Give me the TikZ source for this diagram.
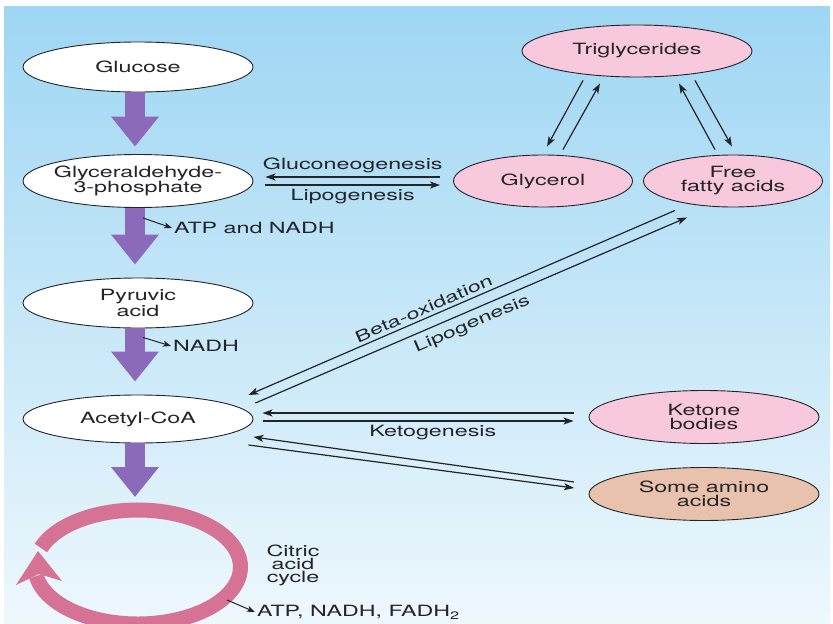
\documentclass[tikz,border=0pt]{standalone}
\usepackage{fontspec}
\setmainfont{TeX Gyre Heros}[FakeStretch=1.5]
\usetikzlibrary{shapes.geometric,arrows.meta}
\definecolor{skytop}{RGB}{158,214,243}
\definecolor{skybottom}{RGB}{238,248,253}
\definecolor{lipidpink}{RGB}{248,200,220}
\definecolor{aminotan}{RGB}{232,194,172}
\definecolor{glycpurple}{RGB}{139,106,188}
\definecolor{cyclepink}{RGB}{214,114,148}
\definecolor{inkgray}{RGB}{35,35,40}

\begin{document}
\begin{tikzpicture}[x=1pt,y=-1pt,
    font=\fontsize{15.5}{14}\selectfont,text=inkgray,
    metab/.style={ellipse,draw=inkgray,line width=0.9pt,fill=white,inner xsep=-15pt,inner ysep=0pt,
        align=center,minimum width=230pt,minimum height=50pt},
    lipid/.style={metab,fill=lipidpink},
    flux/.style={draw=inkgray,line width=1.2pt,-{Stealth[length=10pt,width=7pt,inset=2.5pt]}},
    yield/.style={draw=inkgray,line width=1pt,-{Stealth[length=8pt,width=6pt,inset=2pt]}},
    glycolysis/.style={draw=glycpurple,line width=20pt,-{Triangle[length=30pt,width=46pt]}}]
            \useasboundingbox (0,0) rectangle (833,624);
            \clip (0,0) rectangle (833,624);
            \fill[white] (0,0) rectangle (833,624);
            \shade[top color=skytop,bottom color=skybottom] (4,6) rectangle (830,624);

            \node[metab] (glu) at (138,67) {Glucose};
            \node[metab,minimum height=53pt] (g3p) at (138,181) {Glyceraldehyde-\\3-phosphate};
            \node[metab] (pyr) at (138,303) {Pyruvic\\acid};
            \node[metab,minimum height=48pt] (acoa) at (138,419) {Acetyl-CoA};
            \node[lipid,minimum height=52pt] (tg) at (637,51) {Triglycerides};
            \node[lipid,minimum width=179pt,minimum height=52pt] (glyc) at (543,181) {Glycerol};
            \node[lipid,minimum width=179pt,minimum height=52pt] (ffa) at (733,181) {Free\\fatty acids};
            \node[lipid,minimum height=53pt] (ket) at (704,417) {Ketone\\bodies};
            \node[metab,fill=aminotan,minimum height=53pt] (amino) at (704,494) {Some amino\\acids};

            \draw[glycolysis,shorten >=7.5pt] ([xshift=-3pt]glu.south) -- ([xshift=-3pt]g3p.north);
            \draw[glycolysis,shorten >=13pt] ([xshift=-3pt]g3p.south) -- ([xshift=-3pt]pyr.north);
            \draw[glycolysis,shorten >=13pt] ([xshift=-3pt]pyr.south) -- ([xshift=-3pt]acoa.north);
            \coordinate (tcatop) at (135,497);
            \draw[glycolysis] ([xshift=-3pt]acoa.south) -- (tcatop);

            \coordinate (tca) at (137.75,567);
            \draw[cyclepink,line width=15pt]
                ([shift={(199.5:102.75 and 57)}]tca) arc[start angle=199.5,end angle=530.9,x radius=102.75,y radius=57];
            \fill[cyclepink] (38,551) -- (62,581) -- (39,574) -- (16,585) -- cycle;
            \node[align=center,font=\fontsize{15.5}{13}\selectfont] (cit) at (293,565) {Citric\\acid\\cycle};

            \coordinate (g3pout) at ([shift={(5,10)}]g3p.south);
            \node[anchor=west,inner sep=2pt] (atp) at (172,228) {ATP and NADH};
            \draw[yield] (g3pout) -- (atp.west);
            \coordinate (pyrout) at ([shift={(5,9)}]pyr.south);
            \node[anchor=west,inner sep=2pt] (nadh) at (171,346) {NADH};
            \draw[yield] (pyrout) -- (nadh.west);
            \coordinate (tcaout) at (227,600);
            \node[anchor=west,inner sep=2pt] (tcayield) at (255,612) {ATP, NADH, FADH\textsubscript{2}};
            \draw[yield] (tcaout) -- (tcayield.west);

            \draw[flux] ([shift={(-13,-4)}]glyc.west) -- node[above] {Gluconeogenesis} ([shift={(12,-4)}]g3p.east);
            \draw[flux] ([shift={(12,4)}]g3p.east) -- node[below] {Lipogenesis} ([shift={(-13,4)}]glyc.west);

            \draw[flux] ([shift={(-54,3)}]tg.south) -- ([shift={(4,-8)}]glyc.north);
            \draw[flux] ([shift={(20,-5)}]glyc.north) -- ([shift={(-37,6)}]tg.south);
            \draw[flux] ([shift={(-18,-5)}]ffa.north) -- ([shift={(42,6)}]tg.south);
            \draw[flux] ([shift={(58,3)}]tg.south) -- ([shift={(-1,-8)}]ffa.north);

            \draw[flux] ([shift={(-58,3)}]ffa.south) -- node[pos=0.58,sloped,above] {Beta-oxidation} ([shift={(-5,-24)}]acoa.east);
            \draw[flux] ([shift={(2,-16)}]acoa.east) -- node[pos=0.49,sloped,below=2pt] {Lipogenesis} ([shift={(-46,10)}]ffa.south);

            \draw[flux] ([shift={(-15,-4)}]ket.west) -- ([shift={(9,-6)}]acoa.east);
            \draw[flux] ([shift={(10,2)}]acoa.east) -- node[below,pos=0.546] {Ketogenesis} ([shift={(-15,4)}]ket.west);
            \draw[flux] ([shift={(-14.5,-12)}]amino.west) -- ([shift={(0,18)}]acoa.east);
            \draw[flux] ([shift={(-5,26)}]acoa.east) -- ([shift={(-14.5,-6)}]amino.west);
        \end{tikzpicture}
\end{document}
